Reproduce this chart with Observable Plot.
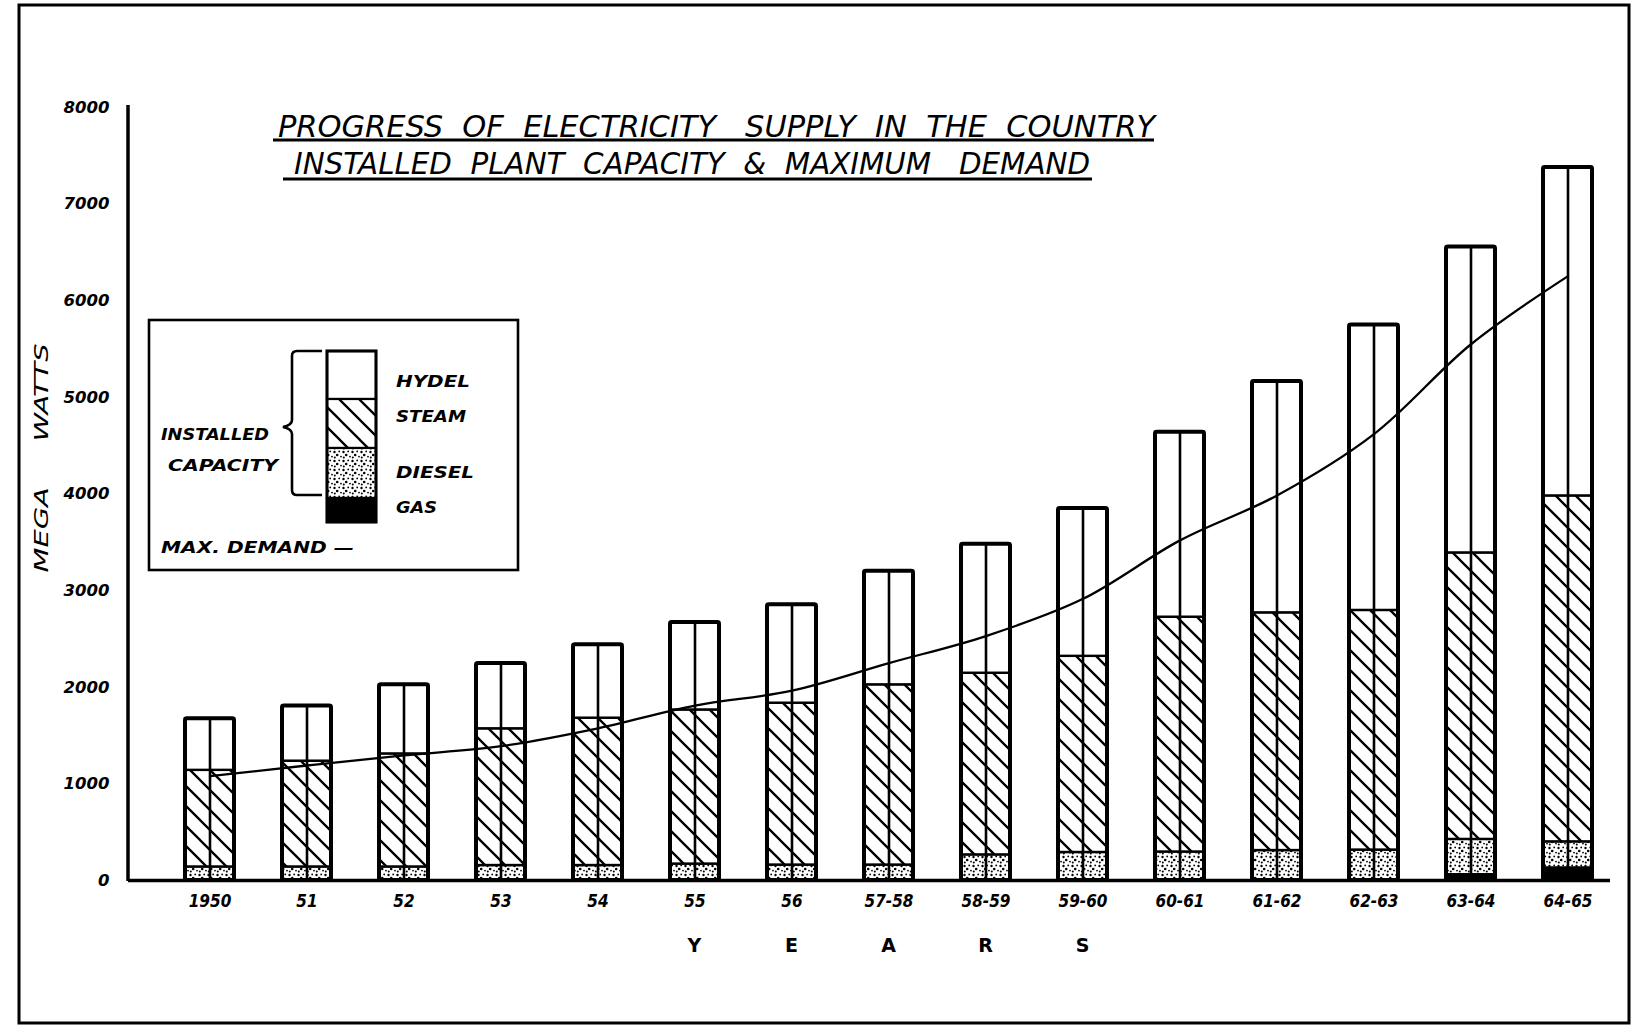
<!DOCTYPE html>
<html>
<head>
<meta charset="utf-8">
<script src="https://cdn.jsdelivr.net/npm/d3@7"></script>
<script src="https://cdn.jsdelivr.net/npm/@observablehq/plot@0.6"></script>
<style>
  html, body { margin: 0; padding: 0; background: #fff; }
  #wrap { position: relative; width: 1634px; height: 1026px; overflow: hidden; background: #fff; }
  #chart { position: absolute; left: 0; top: 0; }
  #overlay { position: absolute; left: 0; top: 0; pointer-events: none; }
  #overlay text { white-space: pre; }
</style>
</head>
<body>
<div id="wrap">
  <div id="chart"></div>
  <svg id="overlay" width="1634" height="1026" xmlns="http://www.w3.org/2000/svg">
    <defs>
      <pattern id="steam" patternUnits="userSpaceOnUse" width="20" height="20">
        <rect width="20" height="20" fill="#fff"/>
        <path d="M-5,-5 L25,25 M-5,15 L5,25 M15,-5 L25,5" stroke="#000" stroke-width="2.3"/>
      </pattern>
      <pattern id="diesel" patternUnits="userSpaceOnUse" width="9" height="9">
        <rect width="9" height="9" fill="#fff"/>
        <circle cx="1.5" cy="2" r="1.2" fill="#000"/>
        <circle cx="6.2" cy="1.4" r="0.9" fill="#000"/>
        <circle cx="4.2" cy="5" r="1.3" fill="#000"/>
        <circle cx="8" cy="6.6" r="0.9" fill="#000"/>
        <circle cx="1.8" cy="7.6" r="1.0" fill="#000"/>
      </pattern>
    </defs>
  </svg>
</div>
<script>
// ---------- data ----------
const years   = ["1950","51","52","53","54","55","56","57-58","58-59","59-60","60-61","61-62","62-63","63-64","64-65"];
const gas     = [0, 0, 0, 0, 0, 0, 0, 0, 0, 0, 0, 0, 0, 60, 130];
const diesel  = [140, 140, 140, 155, 155, 170, 160, 160, 265, 290, 295, 310, 315, 365, 270];
const steam   = [1000, 1095, 1170, 1415, 1525, 1595, 1675, 1865, 1880, 2030, 2430, 2460, 2480, 2965, 3580];
const hydel   = [535, 570, 715, 675, 760, 905, 1020, 1175, 1335, 1530, 1915, 2395, 2955, 3165, 3400];
const demand  = [1080, 1190, 1295, 1390, 1575, 1810, 1965, 2250, 2530, 2915, 3520, 3985, 4620, 5550, 6255];
const types   = ["GAS", "DIESEL", "STEAM", "HYDEL"];
const yTicks  = [0, 1000, 2000, 3000, 4000, 5000, 6000, 7000, 8000];
const axisLetters = ["Y", "E", "A", "R", "S"];
const axisLetterYears = ["55", "56", "57-58", "58-59", "59-60"];

// ---------- tables ----------
const series = {GAS: gas, DIESEL: diesel, STEAM: steam, HYDEL: hydel};
const rows = years.flatMap((y, i) => types.map(t => ({year: y, type: t, value: series[t][i]})));
const totals = years.map((y, i) => ({year: y, total: gas[i] + diesel[i] + steam[i] + hydel[i]}));
const demandRows = years.map((y, i) => ({year: y, demand: demand[i]}));

const tickFont = "DejaVu Sans";
const marks = [
  Plot.barY(rows, Plot.stackY({x: "year", y: "value", fill: "type", stroke: "#000", strokeWidth: 2.4})),
  Plot.barY(totals, {x: "year", y: "total", fill: "none", stroke: "#000", strokeWidth: 4, rx: 2}),
  Plot.ruleX(totals, {x: "year", y1: 0, y2: "total", stroke: "#000", strokeWidth: 2.6}),
  Plot.line(demandRows, {x: "year", y: "demand", curve: "catmull-rom", stroke: "#000", strokeWidth: 2.3}),
  Plot.ruleY([0], {stroke: "#000", strokeWidth: 3.5})
];
const hasAxisMarks = typeof Plot.axisX === "function";
if (hasAxisMarks) {
  marks.push(
    Plot.axisY({ticks: yTicks, tickSize: 0, tickPadding: 19, tickFormat: d => String(d), label: null,
      fontSize: 16.5, fontWeight: "bold", fontStyle: "italic", fontFamily: tickFont}),
    Plot.axisX({tickSize: 0, tickPadding: 14, label: null,
      fontSize: 17, fontWeight: "bold", fontStyle: "italic", fontFamily: "DejaVu Sans Condensed"})
  );
}

const chart = Plot.plot({
  width: 1634,
  height: 1026,
  marginTop: 107,
  marginBottom: 146,
  marginLeft: 128,
  marginRight: 24,
  style: {background: "transparent", fontFamily: tickFont, fontSize: "16px", fontWeight: "bold", fontStyle: "italic", color: "#000"},
  x: {domain: years, paddingInner: 0.5, paddingOuter: 0.36, align: 0.75, label: null, tickSize: 0, tickPadding: 14},
  y: {domain: [0, 8000], ticks: yTicks, label: null, tickSize: 0, tickPadding: 19, tickFormat: d => String(d)},
  color: {domain: types, range: ["#000", "url(#diesel)", "url(#steam)", "#fff"]},
  marks
});
document.getElementById("chart").appendChild(chart);

// y axis line from the scales
const xs = chart.scale("x");
const ys = chart.scale("y");
d3.select(chart).append("line")
  .attr("x1", 128).attr("x2", 128)
  .attr("y1", ys.apply(8000) - 2).attr("y2", ys.apply(0) + 1)
  .attr("stroke", "#000").attr("stroke-width", 3.5);

// ---------- overlay: frame, titles, legend, axis labels ----------
const ov = d3.select("#overlay");
ov.append("rect").attr("x", 19).attr("y", 5).attr("width", 1610).attr("height", 1018)
  .attr("fill", "none").attr("stroke", "#000").attr("stroke-width", 3);

const titleFont = "'Liberation Sans Narrow', 'DejaVu Sans Condensed', sans-serif";
function txt(s, x, y, opts = {}) {
  const t = ov.append("text").attr("x", x).attr("y", y)
    .attr("font-family", opts.family || titleFont)
    .attr("font-size", opts.size || 16)
    .attr("font-style", opts.style || "italic")
    .attr("font-weight", opts.weight || "normal")
    .attr("text-anchor", opts.anchor || "start")
    .attr("dominant-baseline", opts.baseline || "auto")
    .attr("fill", "#000")
    .attr("xml:space", "preserve")
    .text(s);
  if (opts.len) t.attr("textLength", opts.len).attr("lengthAdjust", "spacingAndGlyphs");
  if (opts.transform) t.attr("transform", opts.transform);
  return t;
}

// titles
txt("PROGRESS  OF  ELECTRICITY   SUPPLY  IN  THE  COUNTRY", 278, 137, {size: 30, len: 877});
ov.append("line").attr("x1", 273).attr("x2", 1154).attr("y1", 140).attr("y2", 140).attr("stroke", "#000").attr("stroke-width", 3);
txt("INSTALLED  PLANT  CAPACITY  &  MAXIMUM   DEMAND", 294, 174, {size: 30, len: 796});
ov.append("line").attr("x1", 283).attr("x2", 1092).attr("y1", 179).attr("y2", 179).attr("stroke", "#000").attr("stroke-width", 3);

// y axis title
txt("MEGA     WATTS", 0, 0, {size: 20, len: 229, anchor: "middle", baseline: "middle", transform: "translate(42,458) rotate(-90)"});

// x axis title letters under their bars
axisLetters.forEach((L, i) => {
  const cx = xs.apply(axisLetterYears[i]) + xs.bandwidth / 2;
  txt(L, cx, 946, {family: "DejaVu Sans", size: 19, weight: "bold", style: "normal", anchor: "middle", baseline: "middle"});
});

// legend box
ov.append("rect").attr("x", 149).attr("y", 320).attr("width", 369).attr("height", 250)
  .attr("fill", "#fff").attr("stroke", "#000").attr("stroke-width", 2.6);
const legFill = {HYDEL: "#fff", STEAM: "url(#steam)", DIESEL: "url(#diesel)", GAS: "#000"};
const legY = {HYDEL: [351, 399], STEAM: [399, 448], DIESEL: [448, 498], GAS: [498, 522]};
["HYDEL", "STEAM", "DIESEL", "GAS"].forEach(t => {
  ov.append("rect").attr("x", 327).attr("y", legY[t][0]).attr("width", 49).attr("height", legY[t][1] - legY[t][0])
    .attr("fill", legFill[t]).attr("stroke", "#000").attr("stroke-width", 2.2);
});
ov.append("rect").attr("x", 327).attr("y", 351).attr("width", 49).attr("height", 171)
  .attr("fill", "none").attr("stroke", "#000").attr("stroke-width", 3);
const legFont = {family: "DejaVu Sans", size: 16, weight: "bold", style: "italic", baseline: "middle"};
txt("HYDEL", 396, 382, {...legFont, len: 74});
txt("STEAM", 396, 417, {...legFont, len: 70});
txt("DIESEL", 396, 473, {...legFont, len: 78});
txt("GAS", 396, 508, {...legFont, len: 41});
txt("INSTALLED", 161, 435, {...legFont, len: 108});
txt("CAPACITY", 168, 466, {...legFont, len: 110});
txt("MAX. DEMAND —", 161, 548, {...legFont, len: 193});
// brace
ov.append("path")
  .attr("d", "M322,351 L297,351 Q292,351 292,356 L292,420 Q292,425 283,427 Q292,429 292,434 L292,490 Q292,495 297,495 L322,495")
  .attr("fill", "none").attr("stroke", "#000").attr("stroke-width", 2.6);
</script>
</body>
</html>
